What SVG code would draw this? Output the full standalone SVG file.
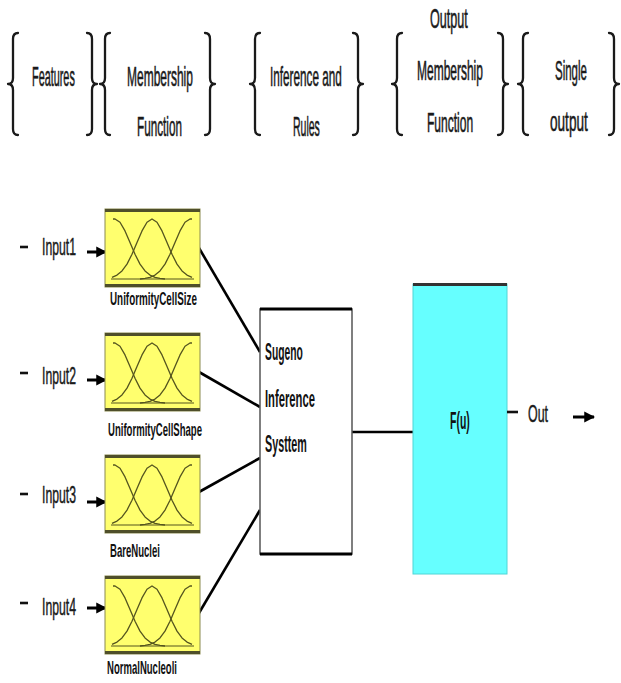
<svg xmlns="http://www.w3.org/2000/svg" xmlns:xlink="http://www.w3.org/1999/xlink" width="621" height="683" viewBox="0 0 621 683">
  <style>
    .hdr { font-family: "Liberation Sans", Arial, sans-serif; font-size: 27px; fill: #1a1a1a; stroke: #1a1a1a; stroke-width: 0.6; }
    .port { font-family: "Liberation Sans", Arial, sans-serif; font-size: 24px; fill: #1a1a1a; stroke: #1a1a1a; stroke-width: 0.5; }
    .lbl { font-family: "Liberation Sans", Arial, sans-serif; font-size: 18px; font-weight: bold; fill: #111; }
    .sys { font-family: "Liberation Sans", Arial, sans-serif; font-size: 24px; font-weight: bold; fill: #111; }
    .brace { fill: none; stroke: #1a1a1a; stroke-width: 2.3; stroke-linecap: round; stroke-linejoin: round; }
    .wire { fill: none; stroke: #000; stroke-width: 2.6; }
    .arrow { fill: none; stroke: #000; stroke-width: 3; marker-end: url(#head); }
    .dash { stroke: #111; stroke-width: 2.6; }
    .mfcurve { fill: none; stroke: #55551f; stroke-width: 1.3; stroke-linejoin: round; }
  </style>
  <defs>
    <marker id="head" viewBox="0 0 10 10" refX="9" refY="5" markerWidth="3.6" markerHeight="4" orient="auto" markerUnits="strokeWidth">
      <path d="M0,0 L10,5 L0,10 Z" fill="#000"/>
    </marker>
    <!-- curly brace, tip at the origin, opening to the right -->
    <path id="brace" class="brace" d="M10,-51 Q5,-51 5,-45 L5,-6 Q5,0 0,0 Q5,0 5,6 L5,45 Q5,51 10,51"/>
    <!-- membership-function block: yellow panel with three gaussian sets -->
    <g id="mf">
      <rect x="0" y="0" width="95" height="78" fill="#ffff6e" stroke="#8a8a50" stroke-width="1"/>
      <line x1="0" y1="1.5" x2="95" y2="1.5" stroke="#4f4f2a" stroke-width="3"/>
      <line x1="0" y1="76.5" x2="95" y2="76.5" stroke="#4f4f2a" stroke-width="3"/>
      <path class="mfcurve" d="M8,10 L10,10 L15,13.2 L20,21.9 L25,33.6 L30,45.3 L35,55.1 L40,61.9 L45,66.1 L50,68.3 L55,69.3 L60,70"/>
      <path class="mfcurve" d="M7,68.3 L12,66.1 L17,61.9 L22,55.1 L27,45.3 L32,33.6 L37,21.9 L42,13.2 L47,10 L52,13.2 L57,21.9 L62,33.6 L67,45.3 L72,55.1 L77,61.9 L82,66.1 L87,68.3"/>
      <path class="mfcurve" d="M35,70 L40,69.3 L45,68.3 L50,66.1 L55,61.9 L60,55.1 L65,45.3 L70,33.6 L75,21.9 L80,13.2 L85,10 L87,10"/>
      <line x1="6" y1="70" x2="89" y2="70" stroke="#55551f" stroke-width="1.1"/>
    </g>
  </defs>

  <!-- stage headings (condensed lettering) -->
  <g id="stages">
    <use href="#brace" transform="translate(8,84)"/>
    <use href="#brace" transform="translate(97,84) scale(-1,1)"/>
    <text class="hdr" transform="translate(32,86) scale(0.42,1)" textLength="102" lengthAdjust="spacingAndGlyphs">Features</text>

    <use href="#brace" transform="translate(100,84)"/>
    <use href="#brace" transform="translate(215,84) scale(-1,1)"/>
    <text class="hdr" transform="translate(127,86) scale(0.42,1)" textLength="157" lengthAdjust="spacingAndGlyphs">Membership</text>
    <text class="hdr" transform="translate(137,136) scale(0.42,1)" textLength="107" lengthAdjust="spacingAndGlyphs">Function</text>

    <use href="#brace" transform="translate(250,84)"/>
    <use href="#brace" transform="translate(363,84) scale(-1,1)"/>
    <text class="hdr" transform="translate(270,86) scale(0.42,1)" textLength="171" lengthAdjust="spacingAndGlyphs">Inference and</text>
    <text class="hdr" transform="translate(293,136) scale(0.42,1)" textLength="64" lengthAdjust="spacingAndGlyphs">Rules</text>

    <use href="#brace" transform="translate(392,84)"/>
    <use href="#brace" transform="translate(508,84) scale(-1,1)"/>
    <text class="hdr" transform="translate(430,28) scale(0.42,1)" textLength="90" lengthAdjust="spacingAndGlyphs">Output</text>
    <text class="hdr" transform="translate(417,80) scale(0.42,1)" textLength="157" lengthAdjust="spacingAndGlyphs">Membership</text>
    <text class="hdr" transform="translate(427,132) scale(0.42,1)" textLength="110" lengthAdjust="spacingAndGlyphs">Function</text>

    <use href="#brace" transform="translate(518,84)"/>
    <use href="#brace" transform="translate(619,84) scale(-1,1)"/>
    <text class="hdr" transform="translate(555,80) scale(0.42,1)" textLength="76" lengthAdjust="spacingAndGlyphs">Single</text>
    <text class="hdr" transform="translate(550,131) scale(0.42,1)" textLength="90" lengthAdjust="spacingAndGlyphs">output</text>
  </g>

  <!-- connectors -->
  <g id="connectors">
    <line class="arrow" x1="87" y1="252" x2="106" y2="252"/>
    <line class="arrow" x1="87" y1="380" x2="106" y2="380"/>
    <line class="arrow" x1="87" y1="502" x2="106" y2="502"/>
    <line class="arrow" x1="87" y1="608" x2="106" y2="608"/>
    <line class="wire" x1="199" y1="248" x2="260" y2="352"/>
    <line class="wire" x1="199" y1="372" x2="260" y2="407"/>
    <line class="wire" x1="199" y1="492" x2="260" y2="458"/>
    <line class="wire" x1="199" y1="613" x2="260" y2="510"/>
    <line class="wire" x1="352" y1="432" x2="413" y2="432"/>
    <line class="arrow" x1="573" y1="417" x2="594" y2="417"/>
  </g>

  <!-- input ports -->
  <g id="input1">
    <line class="dash" x1="20" y1="247" x2="28" y2="247"/>
    <text class="port" transform="translate(42,255) scale(0.5,1)" textLength="68" lengthAdjust="spacingAndGlyphs">Input1</text>
  </g>
  <g id="input2">
    <line class="dash" x1="20" y1="373" x2="28" y2="373"/>
    <text class="port" transform="translate(42,384) scale(0.5,1)" textLength="68" lengthAdjust="spacingAndGlyphs">Input2</text>
  </g>
  <g id="input3">
    <line class="dash" x1="20" y1="494" x2="28" y2="494"/>
    <text class="port" transform="translate(42,503) scale(0.5,1)" textLength="68" lengthAdjust="spacingAndGlyphs">Input3</text>
  </g>
  <g id="input4">
    <line class="dash" x1="20" y1="603" x2="28" y2="603"/>
    <text class="port" transform="translate(42,615) scale(0.5,1)" textLength="68" lengthAdjust="spacingAndGlyphs">Input4</text>
  </g>

  <!-- membership function blocks -->
  <g id="mf-cellsize">
    <use href="#mf" x="105" y="209"/>
    <text class="lbl" transform="translate(110,305) scale(0.5,1)" textLength="174" lengthAdjust="spacingAndGlyphs">UniformityCellSize</text>
  </g>
  <g id="mf-cellshape">
    <use href="#mf" x="105" y="333"/>
    <text class="lbl" transform="translate(108,436) scale(0.5,1)" textLength="188" lengthAdjust="spacingAndGlyphs">UniformityCellShape</text>
  </g>
  <g id="mf-barenuclei">
    <use href="#mf" x="105" y="455"/>
    <text class="lbl" transform="translate(110,557) scale(0.5,1)" textLength="100" lengthAdjust="spacingAndGlyphs">BareNuclei</text>
  </g>
  <g id="mf-normalnucleoli">
    <use href="#mf" x="105" y="576"/>
    <text class="lbl" transform="translate(107,674) scale(0.5,1)" textLength="140" lengthAdjust="spacingAndGlyphs">NormalNucleoli</text>
  </g>

  <!-- inference system -->
  <g id="sugeno">
    <rect x="260" y="309" width="92" height="245" fill="#fff" stroke="#555" stroke-width="1.5"/>
    <line x1="260" y1="309" x2="352" y2="309" stroke="#000" stroke-width="3"/>
    <line x1="260" y1="554" x2="352" y2="554" stroke="#000" stroke-width="3"/>
    <text class="sys" transform="translate(265,360) scale(0.45,1)" textLength="84" lengthAdjust="spacingAndGlyphs">Sugeno</text>
    <text class="sys" transform="translate(265,407) scale(0.45,1)" textLength="111" lengthAdjust="spacingAndGlyphs">Inference</text>
    <text class="sys" transform="translate(265,452) scale(0.45,1)" textLength="93" lengthAdjust="spacingAndGlyphs">Systtem</text>
  </g>

  <!-- output function block -->
  <g id="output-fn">
    <rect x="413" y="284" width="94" height="290" fill="#66ffff" stroke="#4fd6d6" stroke-width="1"/>
    <line x1="413" y1="284.5" x2="507" y2="284.5" stroke="#333" stroke-width="3"/>
    <text class="sys" transform="translate(450,429) scale(0.45,1)" textLength="44" lengthAdjust="spacingAndGlyphs">F(u)</text>
  </g>

  <!-- output port -->
  <g id="out">
    <line class="dash" x1="507" y1="412" x2="518" y2="412"/>
    <text class="port" transform="translate(528,422) scale(0.5,1)" textLength="40" lengthAdjust="spacingAndGlyphs">Out</text>
  </g>
</svg>
